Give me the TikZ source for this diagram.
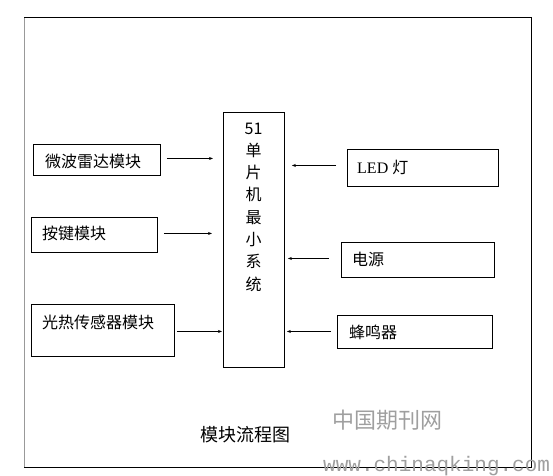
\documentclass[tikz,border=0pt]{standalone}
\usepackage{fontspec}
\setmainfont{Liberation Serif}
\newfontfamily\cjk{Noto Sans CJK SC}
\newfontfamily\wmono{Liberation Mono}
\usetikzlibrary{arrows.meta}
\begin{document}
\begin{tikzpicture}[x=1pt,y=-1pt,
  box/.style={draw, line width=0.9pt, inner sep=0, anchor=north west},
  lbl/.style={font=\cjk\fontsize{16}{16}\selectfont, anchor=west, inner sep=0},
  arr/.style={-{Stealth[length=4pt,width=3pt]}, line width=0.7pt},
  wm/.style={text=gray!75, inner sep=0}]
\useasboundingbox (0,0) rectangle (553,475);
% outer frame
\draw[line width=0.9pt] (24,17) rectangle (531,467);
\draw[line width=1.4pt, gray!80] (24.5,18) -- (24.5,467);
% central box
\node[box, minimum width=61, minimum height=255] (mcu) at (223,112) {};
\node[font=\cjk\fontsize{16}{22.3}\selectfont, align=center, inner sep=0] (mcutext) at (253.5,207) {51\\单\\片\\机\\最\\小\\系\\统};
% left boxes
\node[box, minimum width=127, minimum height=31] (radar) at (33,144) {};
\node[lbl] (radart) at (45,161) {微波雷达模块};
\node[box, minimum width=126, minimum height=35] (key) at (31,217) {};
\node[lbl] (keyt) at (42,233) {按键模块};
\node[box, minimum width=143, minimum height=52] (light) at (31,304) {};
\node[lbl] (lightt) at (42,322) {光热传感器模块};
% right boxes
\node[box, minimum width=151, minimum height=37] (led) at (347,149) {};
\node[anchor=west, inner sep=0, font=\fontsize{16}{16}\selectfont] (ledt) at (357,167) {LED {\cjk 灯}};
\node[box, minimum width=153, minimum height=35] (power) at (341,242) {};
\node[lbl] (powert) at (352,259) {电源};
\node[box, minimum width=155, minimum height=33] (buzz) at (337,315) {};
\node[lbl] (buzzt) at (349,332) {蜂鸣器};
% arrows
\draw[arr] ([xshift=6pt,yshift=1.5pt]radar.east) -- ([xshift=-10pt,yshift=1.5pt]radar.east -| mcu.west);
\draw[arr] ([xshift=6pt,yshift=1.5pt]key.east) -- ([xshift=-11pt,yshift=1.5pt]key.east -| mcu.west);
\draw[arr] ([xshift=2pt,yshift=-1pt]light.east) -- ([xshift=-1pt,yshift=-1pt]light.east -| mcu.west);
\draw[arr] ([xshift=-11pt,yshift=2.5pt]led.west) -- ([xshift=7pt,yshift=2.5pt]led.west -| mcu.east);
\draw[arr] ([xshift=-12pt,yshift=1.5pt]power.west) -- ([xshift=3pt,yshift=1.5pt]power.west -| mcu.east);
\draw[arr] ([xshift=-6pt,yshift=0.5pt]buzz.west) -- ([xshift=2pt,yshift=0.5pt]buzz.west -| mcu.east);
% caption
\node[font=\cjk\fontsize{18}{18}\selectfont, inner sep=0] (caption) at (245,435) {模块流程图};
% watermark
\node[wm, font=\cjk\fontsize{22}{22}\selectfont] (wm1) at (387,420) {中国期刊网};
\node[wm, font=\wmono\fontsize{21}{21}\selectfont, anchor=west] (wm2) at (323,466) {www.chinaqking.com};
\end{tikzpicture}
\end{document}
